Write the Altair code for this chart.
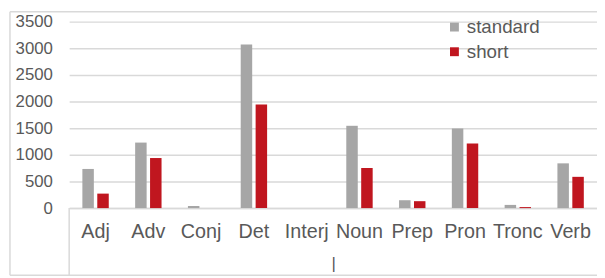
import altair as alt
import pandas as pd

categories = ["Adj", "Adv", "Conj", "Det", "Interj", "Noun", "Prep", "Pron", "Tronc", "Verb"]
standard = [735, 1230, 40, 3070, 0, 1545, 148, 1495, 60, 840]
short = [272, 940, 0, 1945, 0, 753, 130, 1215, 19, 587]
series = ["standard", "short"]
colors = ["#a6a6a6", "#c0161f"]
y_ticks = [0, 500, 1000, 1500, 2000, 2500, 3000, 3500]

rows = []
for i, c in enumerate(categories):
    rows.append({"cat": c, "series": "standard", "value": standard[i]})
    rows.append({"cat": c, "series": "short", "value": short[i]})
df = pd.DataFrame(rows)

FONT = "Liberation Sans"
TXT = "#595959"
LINE = "#d9d9d9"

bars = alt.Chart(df).mark_bar().encode(
    x=alt.X("cat:N", sort=categories,
            scale=alt.Scale(paddingInner=0.5, paddingOuter=0.25),
            axis=alt.Axis(title="|", labelAngle=0, labelFontSize=20, labelColor=TXT,
                          labelFont=FONT, labelPadding=14, ticks=False,
                          domainColor=LINE, domainWidth=1.5, labelOverlap=False,
                          titleFont=FONT, titleFontSize=17, titleFontWeight="normal",
                          titleColor=TXT, titlePadding=14)),
    xOffset=alt.XOffset("series:N", sort=series, scale=alt.Scale(paddingInner=0.23)),
    y=alt.Y("value:Q", scale=alt.Scale(domain=[0, 3500], nice=False),
            axis=alt.Axis(title=None, values=y_ticks, format="d", labelFontSize=17,
                          labelColor=TXT, labelFont=FONT, labelPadding=17, ticks=False,
                          domain=False, gridColor=LINE, gridWidth=1.5)),
    color=alt.Color("series:N", sort=series,
                    scale=alt.Scale(domain=series, range=colors),
                    legend=alt.Legend(title=None, orient="none", legendX=381, legendY=-4,
                                      symbolType="square", symbolSize=81, symbolStrokeWidth=0,
                                      labelFontSize=19, labelFont=FONT, labelColor=TXT,
                                      labelOffset=3, rowPadding=5, padding=0)),
)

def rule(x1, x2, y1, y2):
    return alt.Chart(pd.DataFrame({"z": [0]})).mark_rule(color=LINE, strokeWidth=1.5).encode(
        x=alt.value(x1), x2=alt.value(x2), y=alt.value(y1), y2=alt.value(y2))

border = (rule(-60, -60, -10, 257) + rule(-60, 540, -10, -10) +
          rule(0, 0, 189, 257) + rule(-60, 540, 257, 257))

chart = alt.layer(border, bars).properties(
    width=535, height=189,
    autosize=alt.AutoSizeParams(type="none"),
    padding={"left": 62, "top": 12, "right": 0, "bottom": 68},
).configure_view(stroke=None)

chart.save("out.html", embed_options={"renderer": "svg", "actions": False})
